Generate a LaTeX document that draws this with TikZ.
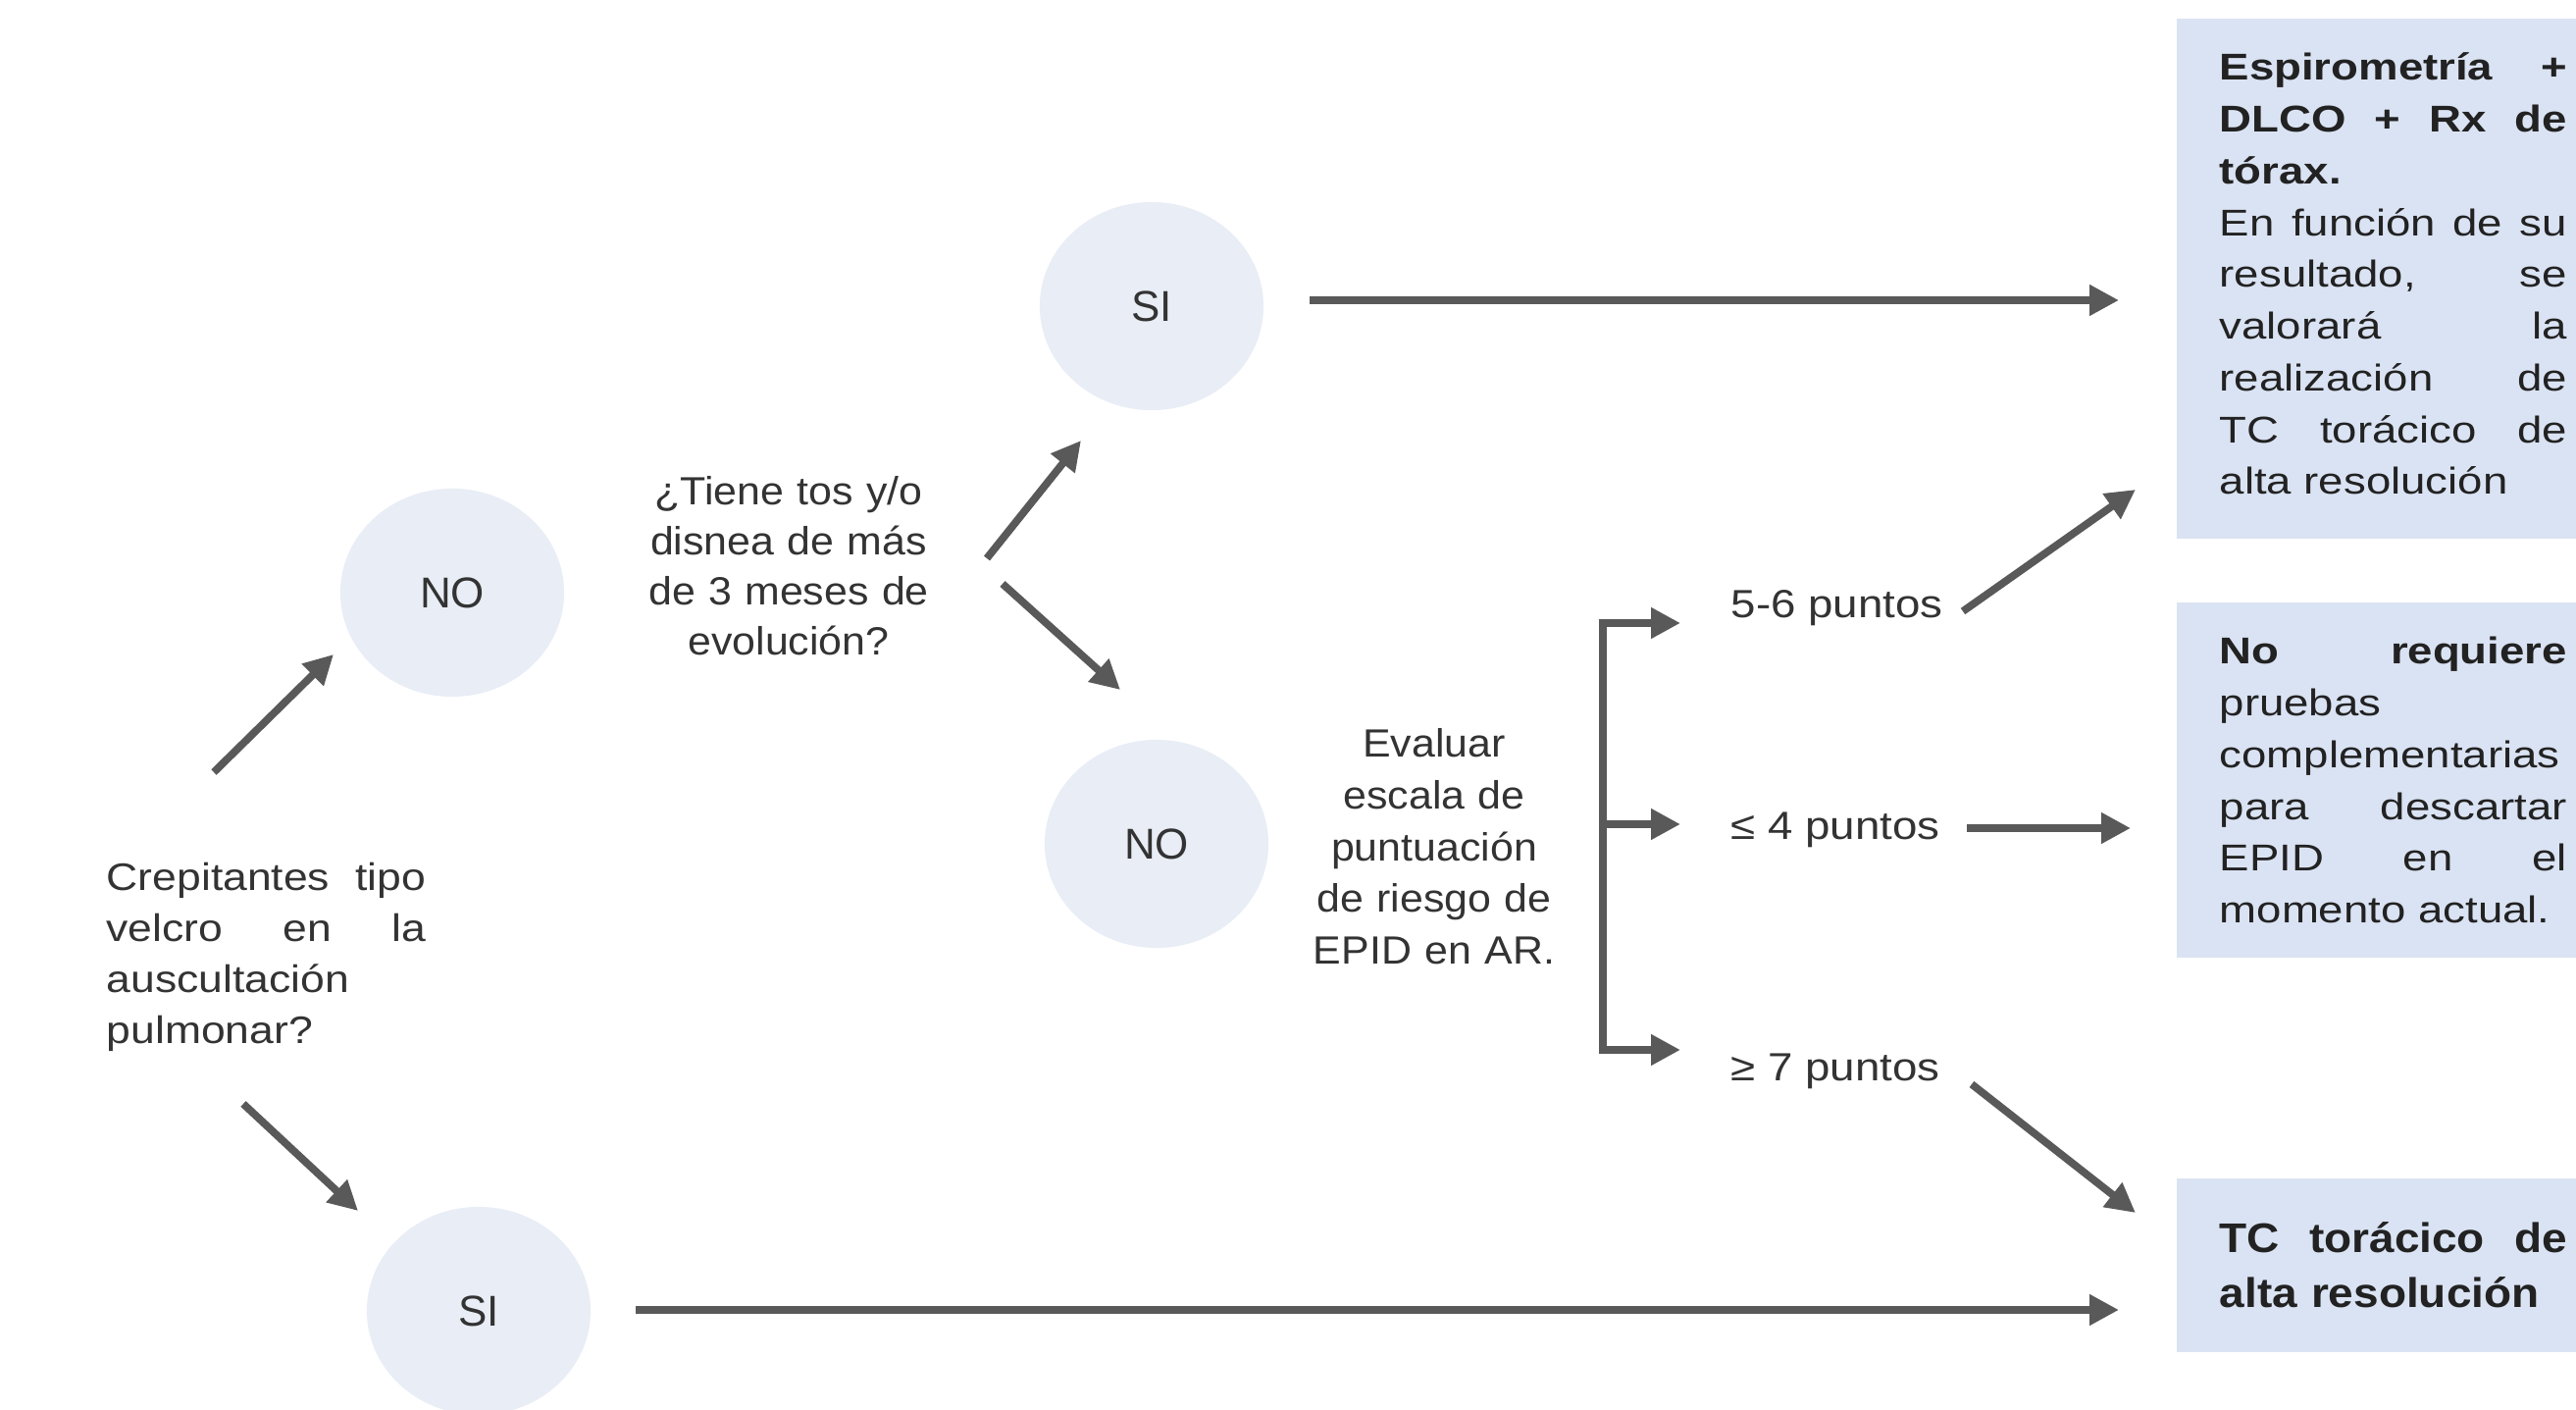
\documentclass[tikz,border=0pt]{standalone}
\usepackage{fontspec}
\setmainfont{Liberation Sans}
\newfontfamily\fS[FakeStretch=1.07]{Liberation Sans}
\newfontfamily\fM[FakeStretch=1.14]{Liberation Sans}
\newfontfamily\fW[FakeStretch=1.2]{Liberation Sans}
\newfontfamily\fT[FakeStretch=1.09]{Liberation Sans}
\usetikzlibrary{arrows.meta,shapes.geometric}
\definecolor{circ}{HTML}{E8EDF6}
\definecolor{boxc}{HTML}{DAE3F3}
\definecolor{arrc}{HTML}{595959}
\definecolor{txt}{HTML}{333333}
\definecolor{btxt}{HTML}{222222}
\begin{document}
\begin{tikzpicture}[x=0.01cm,y=-0.01cm,
  arrowline/.style={draw=arrc, line width=2.2pt, -{Triangle[length=8.5pt,width=8.5pt]}},
  plainline/.style={draw=arrc, line width=2.2pt},
  bubble/.style={ellipse, fill=circ, minimum width=2.28cm, minimum height=2.12cm, inner sep=0pt, text=txt, font={\fontsize{12.5}{15}\selectfont}},
  resbox/.style={rectangle, fill=boxc, anchor=north west, inner sep=0pt, minimum width=4.5cm},
  boxtext/.style={inner sep=0pt, text width=3.54cm, align=left, text=btxt, anchor=base west, font={\fW\fontsize{10.8}{15}\selectfont}},
  midtext/.style={inner sep=0pt, align=center, text=txt, anchor=base},
  lbl/.style={inner sep=0pt, text=txt, anchor=base west, font={\fM\fontsize{11.4}{14}\selectfont}}]
\useasboundingbox (0,0) rectangle (2626,1437);
\fill[white] (0,0) rectangle (2626,1437);

% circles
\node[bubble] (no1) at (461,604) {NO};
\node[bubble] (si1) at (1174,312) {SI};
\node[bubble] (no2) at (1179,860) {NO};
\node[bubble] (si2) at (488,1336) {SI};

% result boxes
\node[resbox, minimum height=5.3cm] (box1) at (2218,18) {};
\node[resbox, minimum height=3.62cm] (box2) at (2218,613) {};
\node[resbox, minimum height=1.77cm] (box3) at (2218,1200) {};

\node[boxtext] (t1) at (2262,82) {\textbf{Espirometría\hfill+}\\
\textbf{DLCO\hfill+\hfill Rx\hfill de}\\
\textbf{tórax.}\\
En\hfill función\hfill de\hfill su\\
resultado,\hfill se\\
valorará\hfill la\\
realización\hfill de\\
TC\hfill torácico\hfill de\\
alta resolución};

\node[boxtext] (t2) at (2262,677) {\textbf{No}\hfill\textbf{requiere}\\
pruebas\\
complementarias\\
para\hfill descartar\\
EPID\hfill en\hfill el\\
momento actual.};

\node[boxtext, font={\fT\bfseries\fontsize{12}{15.65}\selectfont}] (t3) at (2262,1277) {TC\hfill torácico\hfill de\\
alta resolución};

% texts
\node[inner sep=0pt, text width=3.25cm, align=left, text=txt, anchor=base west,
  font={\fM\fontsize{11.1}{14.7}\selectfont}] (crep) at (108,908)
  {Crepitantes\hfill tipo\\velcro\hfill en\hfill la\\auscultación\\pulmonar?};

\node[midtext, text width=3.3cm, font={\fS\fontsize{11.4}{14.5}\selectfont}] (q) at (804,515)
  {¿Tiene tos y/o\\disnea de más\\de 3 meses de\\evolución?};

\node[midtext, text width=2.9cm, font={\fS\fontsize{11.4}{14.94}\selectfont}] (eval) at (1462,772)
  {Evaluar\\escala de\\puntuación\\de riesgo de\\EPID en AR.};

\node[lbl] (p56) at (1764,630) {5-6 puntos};
\node[lbl] (le4) at (1764,856) {≤ 4 puntos};
\node[lbl] (ge7) at (1764,1102) {≥ 7 puntos};

% connector end points
\coordinate (a1s) at (218,787);   \coordinate (a1e) at (340,667);
\coordinate (a2s) at (248,1125);  \coordinate (a2e) at (365,1234);
\coordinate (a3s) at (1006,569);  \coordinate (a3e) at (1102,449);
\coordinate (a4s) at (1022,595);  \coordinate (a4e) at (1142,703);
\coordinate (a5s) at (1335,306);  \coordinate (a5e) at (2160,306);
\coordinate (a6s) at (648,1335);  \coordinate (a6e) at (2160,1335);
\coordinate (a7s) at (2001,623);  \coordinate (a7e) at (2177,499);
\coordinate (a8s) at (2005,844);  \coordinate (a8e) at (2172,844);
\coordinate (a9s) at (2010,1105); \coordinate (a9e) at (2177,1236);
\coordinate (bt) at (1634,635);   \coordinate (bm) at (1634,840);   \coordinate (bb) at (1634,1070);
\coordinate (bte) at (1713,635);  \coordinate (bme) at (1713,840);  \coordinate (bbe) at (1713,1070);

% connectors
\draw[arrowline] (a1s) -- (a1e);
\draw[arrowline] (a2s) -- (a2e);
\draw[arrowline] (a3s) -- (a3e);
\draw[arrowline] (a4s) -- (a4e);
\draw[arrowline] (a5s) -- (a5e);
\draw[arrowline] (a6s) -- (a6e);
\draw[arrowline] (a7s) -- (a7e);
\draw[arrowline] (a8s) -- (a8e);
\draw[arrowline] (a9s) -- (a9e);
\draw[plainline, line cap=rect] (bt) -- (bb);
\draw[arrowline] (bt) -- (bte);
\draw[arrowline] (bm) -- (bme);
\draw[arrowline] (bb) -- (bbe);
\end{tikzpicture}
\end{document}
